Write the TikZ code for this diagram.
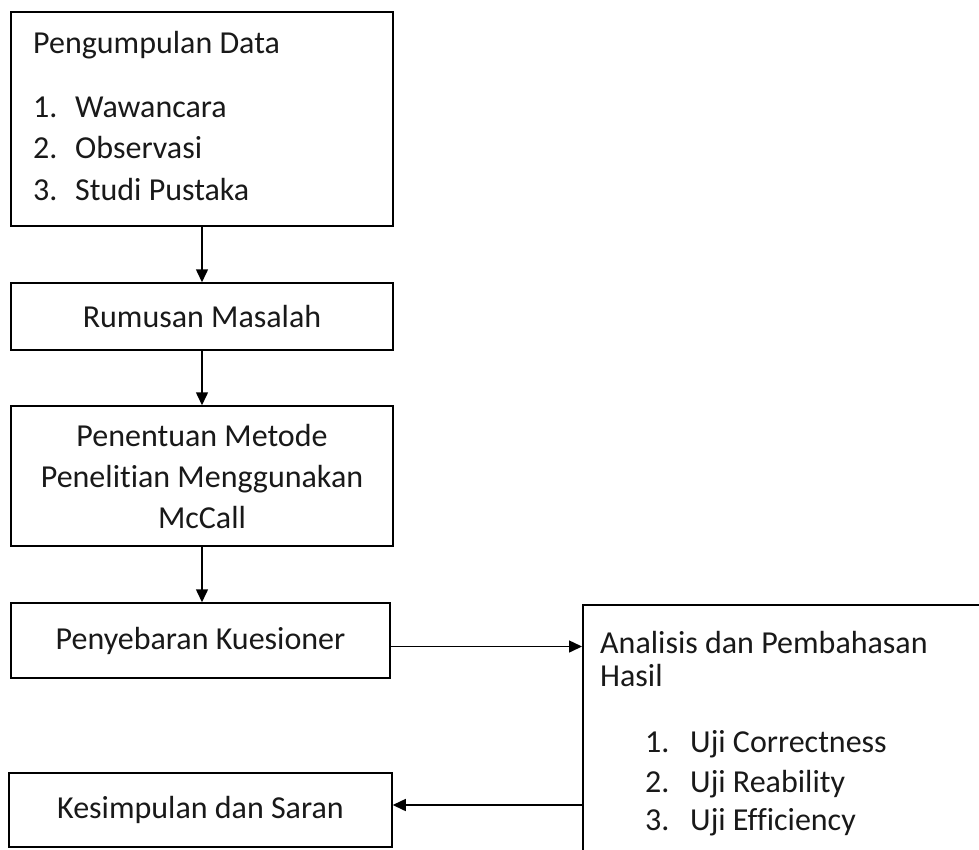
\documentclass[tikz,border=0pt]{standalone}
\usepackage{fontspec}
\setmainfont[Ligatures=NoCommon]{Carlito}
\usetikzlibrary{arrows.meta,calc}
\begin{document}
\begin{tikzpicture}[x=1pt,y=-1pt,
  box/.style={draw=black,line width=1.5pt,inner sep=0pt,align=center,text=black!90},
  txt/.style={anchor=base west,inner sep=0pt,text=black!90},
  arr/.style={line width=1.5pt,-{Triangle[length=13pt,width=12pt]}},
  font=\fontsize{32}{41}\selectfont]
\clip (0,0) rectangle (979,849);
\fill[white] (0,0) rectangle (979,849);
% boxes
\node[box,minimum width=382pt,minimum height=214pt] (b1) at (202,119) {};
\node[box,minimum width=382pt,minimum height=67pt] (b2) at (202,316.5) {Rumusan Masalah};
\node[box,minimum width=382pt,minimum height=140pt] (b3) at (202,476) {Penentuan Metode\\Penelitian Menggunakan\\McCall};
\node[box,minimum width=379pt,minimum height=75pt] (b4) at (200.5,640.5) {Penyebaran Kuesioner};
\node[box,minimum width=420pt,minimum height=280pt,anchor=north west] (b5) at (582,604) {};
\node[box,minimum width=383pt,minimum height=74pt] (b6) at (200.5,810) {Kesimpulan dan Saran};
% box 1 text
\node[txt] (t1) at (33,53) {Pengumpulan Data};
\node[txt] (n11) at (33,117) {1.};
\node[txt] (i11) at (75,117) {Wawancara};
\node[txt] (n12) at (33,158) {2.};
\node[txt] (i12) at (75,158) {Observasi};
\node[txt] (n13) at (33,200) {3.};
\node[txt] (i13) at (75,200) {Studi Pustaka};
% box 5 text
\node[txt] (t5a) at (600,653) {Analisis dan Pembahasan};
\node[txt] (t5b) at (600,686) {Hasil};
\node[txt] (n51) at (645,752) {1.};
\node[txt] (i51) at (690,752) {Uji Correctness};
\node[txt] (n52) at (645,792) {2.};
\node[txt] (i52) at (690,792) {Uji Reability};
\node[txt] (n53) at (645,830) {3.};
\node[txt] (i53) at (690,830) {Uji Efficiency};
% arrows
\draw[arr] (b1.south) -- (b2.north);
\draw[arr] (b2.south) -- (b3.north);
\draw[arr] (b3.south) -- (b3.south |- b4.north);
\draw[arr] ([yshift=-6pt]b4.east) -- ([yshift=-6pt]b4.east -| b5.west);
\draw[arr] ([yshift=5pt]b6.east -| b5.west) -- ([yshift=5pt]b6.east);
\end{tikzpicture}
\end{document}
